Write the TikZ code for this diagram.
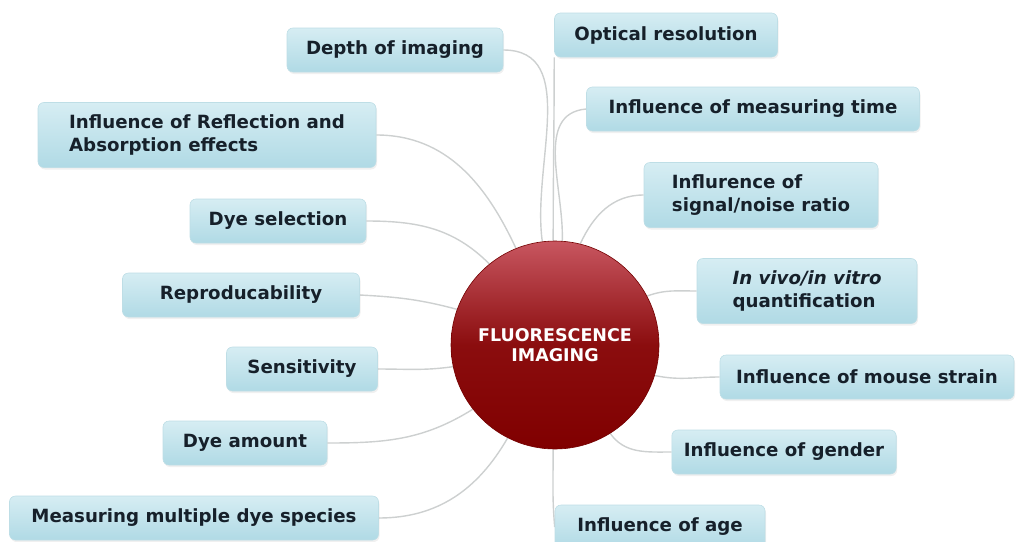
\documentclass[tikz,border=0pt]{standalone}
\usepackage{fontspec}
\setmainfont{DejaVu Sans}
\usetikzlibrary{shadows}
\usetikzlibrary{backgrounds}

\definecolor{boxtop}{RGB}{214,237,243}
\definecolor{boxbot}{RGB}{176,218,229}
\definecolor{boxline}{RGB}{190,222,230}
\definecolor{txt}{RGB}{22,32,42}
\definecolor{hubtop}{RGB}{200,86,96}
\definecolor{hubbot}{RGB}{128,0,0}
\definecolor{linkgray}{RGB}{205,208,208}

\begin{document}
\begin{tikzpicture}[x=1pt,y=1pt,
  topic/.style={rectangle,rounded corners=6pt,top color=boxtop,bottom color=boxbot,
    draw=boxline,line width=0.6pt,text=txt,font=\fontsize{18.2}{23}\selectfont\bfseries,
    minimum height=44pt,inner xsep=12pt,align=left,
    drop shadow={opacity=0.12,shadow xshift=1pt,shadow yshift=-2pt}},
  twoline/.style={minimum height=65pt},
  hubstyle/.style={circle,minimum size=208pt,top color=hubtop,bottom color=hubbot,
    middle color=hubbot!85!hubtop,draw=hubbot!90!black,line width=0.6pt,text=white,
    font=\fontsize{17.5}{20}\selectfont\bfseries,align=center},
  link/.style={draw=linkgray,line width=1.4pt}]

\useasboundingbox (0,0) rectangle (1016,-541);

\node[hubstyle] (hub) at (555,-345) {FLUORESCENCE\\IMAGING};

\node[topic,minimum width=216pt] (depth) at (395,-50) {Depth of imaging};
\node[topic,minimum width=223pt] (optical) at (666,-35) {Optical resolution};
\node[topic,minimum width=333pt] (mtime) at (753,-109) {Influence of measuring time};
\node[topic,twoline,minimum width=234pt] (signal) at (761,-195) {Influrence of\\signal/noise ratio};
\node[topic,twoline,minimum width=220pt] (vivo) at (807,-291) {\itshape In vivo/in vitro\\quantification};
\node[topic,minimum width=294pt] (mouse) at (867,-377) {Influence of mouse strain};
\node[topic,minimum width=224pt] (gender) at (784,-452) {Influence of gender};
\node[topic,minimum width=210pt] (age) at (660,-527) {Influence of age};

\node[topic,twoline,minimum width=338pt] (refl) at (207,-135) {Influence of Reflection and\\Absorption effects};
\node[topic,minimum width=176pt] (dyesel) at (278,-221) {Dye selection};
\node[topic,minimum width=237pt] (repro) at (241,-295) {Reproducability};
\node[topic,minimum width=151pt] (sens) at (302,-369) {Sensitivity};
\node[topic,minimum width=164pt] (dyeamt) at (245,-443) {Dye amount};
\node[topic,minimum width=369pt] (multi) at (194,-518) {Measuring multiple dye species};

\begin{scope}[on background layer]
\draw[link] (depth.east) to[out=0,in=98] (hub.97);
\draw[link] (optical.south west) to[out=-90,in=90] (hub.91);
\draw[link] (mtime.west) to[out=185,in=88] (hub.86);
\draw[link] (signal.west) to[out=180,in=65] (hub.76);
\draw[link] (vivo.west) to[out=180,in=20] (hub.28);
\draw[link] (mouse.west) to[out=180,in=-12] (hub.-17);
\draw[link] (gender.west) to[out=180,in=-55] (hub.-58);
\draw[link] (age.west) to[out=95,in=-90] (hub.-91);
\draw[link] (refl.east) to[out=0,in=115] (hub.112);
\draw[link] (dyesel.east) to[out=0,in=135] (hub.129);
\draw[link] (repro.east) to[out=-3,in=165] (hub.160);
\draw[link] (sens.east) to[out=0,in=188] (hub.192);
\draw[link] (dyeamt.east) to[out=0,in=212] (hub.218);
\draw[link] (multi.east) to[out=0,in=240] (hub.243);
\end{scope}

\end{tikzpicture}
\end{document}
